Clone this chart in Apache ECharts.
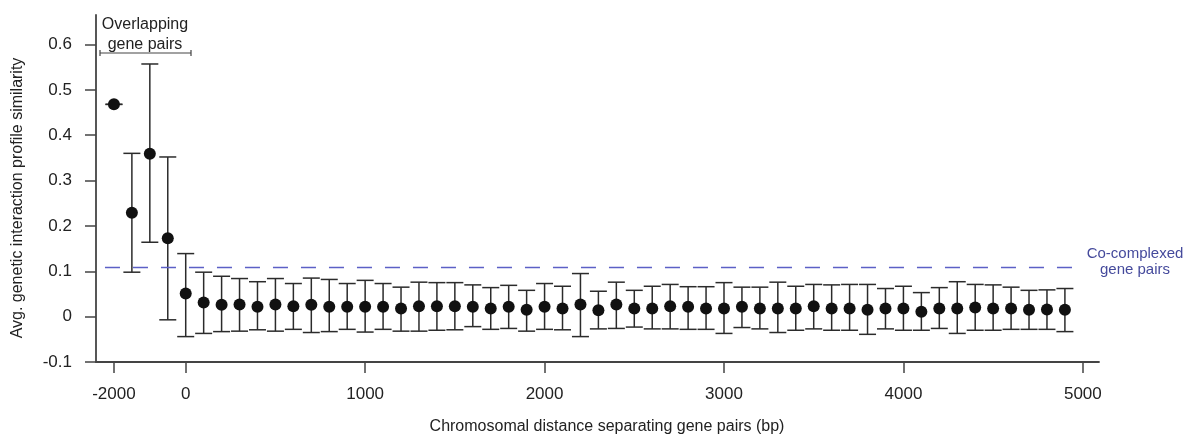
<!DOCTYPE html>
<html>
<head>
<meta charset="utf-8">
<script src="https://cdn.jsdelivr.net/npm/echarts@6/dist/echarts.min.js"></script>
<style>
  html, body { margin: 0; padding: 0; background: #fff; }
  #chart { width: 1189px; height: 435px; }
</style>
</head>
<body>
<div id="chart"></div>
<script>
// distance between gene pairs (bp); negative = overlapping pairs
var distances = [-2000, -1500, -1000, -500,
  0, 100, 200, 300, 400, 500, 600, 700, 800, 900,
  1000, 1100, 1200, 1300, 1400, 1500, 1600, 1700, 1800, 1900,
  2000, 2100, 2200, 2300, 2400, 2500, 2600, 2700, 2800, 2900,
  3000, 3100, 3200, 3300, 3400, 3500, 3600, 3700, 3800, 3900,
  4000, 4100, 4200, 4300, 4400, 4500, 4600, 4700, 4800, 4900];
var means = [0.468, 0.229, 0.359, 0.173,
  0.051, 0.031, 0.026, 0.027, 0.022, 0.027, 0.023, 0.026, 0.022, 0.022,
  0.022, 0.022, 0.018, 0.023, 0.023, 0.023, 0.022, 0.018, 0.022, 0.015,
  0.022, 0.018, 0.027, 0.014, 0.027, 0.018, 0.018, 0.023, 0.022, 0.018,
  0.018, 0.022, 0.018, 0.018, 0.018, 0.023, 0.018, 0.018, 0.015, 0.018,
  0.018, 0.011, 0.018, 0.018, 0.020, 0.018, 0.018, 0.015, 0.016, 0.015];
var upper = [0.468, 0.360, 0.557, 0.352,
  0.139, 0.098, 0.089, 0.084, 0.077, 0.084, 0.073, 0.085, 0.082, 0.073,
  0.080, 0.073, 0.065, 0.076, 0.075, 0.075, 0.070, 0.064, 0.069, 0.058,
  0.073, 0.067, 0.095, 0.056, 0.076, 0.058, 0.067, 0.071, 0.066, 0.066,
  0.075, 0.065, 0.065, 0.076, 0.067, 0.071, 0.070, 0.071, 0.071, 0.062,
  0.067, 0.053, 0.064, 0.077, 0.071, 0.070, 0.065, 0.058, 0.059, 0.062];
var lower = [0.468, 0.098, 0.164, -0.007,
  -0.044, -0.037, -0.033, -0.032, -0.029, -0.032, -0.028, -0.035, -0.033, -0.028,
  -0.034, -0.028, -0.032, -0.032, -0.030, -0.029, -0.022, -0.028, -0.026, -0.032,
  -0.028, -0.029, -0.044, -0.027, -0.026, -0.023, -0.027, -0.027, -0.028, -0.028,
  -0.037, -0.024, -0.027, -0.035, -0.030, -0.027, -0.030, -0.030, -0.039, -0.027,
  -0.030, -0.030, -0.026, -0.037, -0.030, -0.030, -0.028, -0.028, -0.028, -0.033];
var xTicks = [-2000, 0, 1000, 2000, 3000, 4000, 5000];
var yTicks = [-0.1, 0, 0.1, 0.2, 0.3, 0.4, 0.5, 0.6];
var coComplexed = 0.108;

// the overlapping part of the axis is squeezed 5x
var SQUEEZE = 5;
function toAxis(bp) { return bp < 0 ? bp / SQUEEZE : bp; }
function fromAxis(v) { return v < 0 ? v * SQUEEZE : v; }

var FONT = 'Liberation Sans, Arial, sans-serif';
var CAP = 17;

var points = distances.map(function(d, i) { return [toAxis(d), means[i]]; });
var bars = distances.map(function(d, i) { return [toAxis(d), upper[i], lower[i]]; });

function renderBar(params, api) {
  var x = api.value(0);
  var top = api.coord([x, api.value(1)]);
  var bot = api.coord([x, api.value(2)]);
  var h = CAP / 2;
  var style = { stroke: '#2b2b2b', lineWidth: 1.5 };
  return {
    type: 'group',
    children: [
      { type: 'line', shape: { x1: top[0], y1: top[1], x2: bot[0], y2: bot[1] }, style: style },
      { type: 'line', shape: { x1: top[0] - h, y1: top[1], x2: top[0] + h, y2: top[1] }, style: style },
      { type: 'line', shape: { x1: bot[0] - h, y1: bot[1], x2: bot[0] + h, y2: bot[1] }, style: style }
    ]
  };
}

var chart = echarts.init(document.getElementById('chart'), null, { renderer: 'canvas' });
chart.setOption({
  animation: false,
  backgroundColor: '#fff',
  grid: { left: 96, right: 90, top: 15, bottom: 73, containLabel: false },
  xAxis: {
    type: 'value',
    min: -500,
    max: 5090,
    splitLine: { show: false },
    axisLine: { onZero: false, lineStyle: { color: '#444', width: 1.8 } },
    axisTick: { length: 11, lineStyle: { color: '#444', width: 1.5 }, customValues: xTicks.map(toAxis) },
    axisLabel: {
      customValues: xTicks.map(toAxis),
      margin: 24, color: '#222', fontSize: 17, fontFamily: FONT,
      formatter: function(v) { return String(fromAxis(v)); }
    }
  },
  yAxis: {
    type: 'value',
    min: -0.1,
    max: 0.665,
    splitLine: { show: false },
    axisLine: { show: true, onZero: false, lineStyle: { color: '#444', width: 1.8 } },
    axisTick: { show: true, length: 11, lineStyle: { color: '#444', width: 1.5 }, customValues: yTicks },
    axisLabel: {
      customValues: yTicks,
      margin: 24, color: '#222', fontSize: 17, fontFamily: FONT,
      formatter: function(v) { return String(Math.round(v * 10) / 10); }
    }
  },
  series: [
    {
      type: 'custom',
      renderItem: renderBar,
      encode: { x: 0, y: [1, 2] },
      data: bars,
      z: 2
    },
    {
      type: 'scatter',
      symbol: 'circle',
      symbolSize: 12,
      itemStyle: { color: '#111', opacity: 1 },
      data: points,
      z: 3,
      markLine: {
        silent: true,
        symbol: 'none',
        label: { show: false },
        lineStyle: { color: '#5c60c6', width: 1.3, type: [15, 13] },
        data: [[{ coord: [-450, coComplexed] }, { coord: [4995, coComplexed] }]]
      }
    }
  ],
  graphic: [
    {
      type: 'text', x: 18, y: 198, rotation: Math.PI / 2,
      style: { text: 'Avg. genetic interaction profile similarity', font: '16px ' + FONT, fill: '#222', align: 'center', verticalAlign: 'middle' }
    },
    {
      type: 'text', x: 607, y: 427,
      style: { text: 'Chromosomal distance separating gene pairs (bp)', font: '16px ' + FONT, fill: '#222', align: 'center', verticalAlign: 'middle' }
    },
    {
      type: 'text', x: 145, y: 35,
      style: { text: 'Overlapping\ngene pairs', font: '16px ' + FONT, fill: '#222', align: 'center', verticalAlign: 'middle', lineHeight: 20 }
    },
    {
      type: 'polyline',
      shape: { points: [[100, 50], [100, 56], [100, 53], [191, 53], [191, 50], [191, 56]] },
      style: { stroke: '#444', lineWidth: 1.2, fill: null }
    },
    {
      type: 'text', x: 1135, y: 262,
      style: { text: 'Co-complexed\ngene pairs', font: '15px ' + FONT, fill: '#454a9c', align: 'center', verticalAlign: 'middle', lineHeight: 16 }
    }
  ]
});
</script>
</body>
</html>
